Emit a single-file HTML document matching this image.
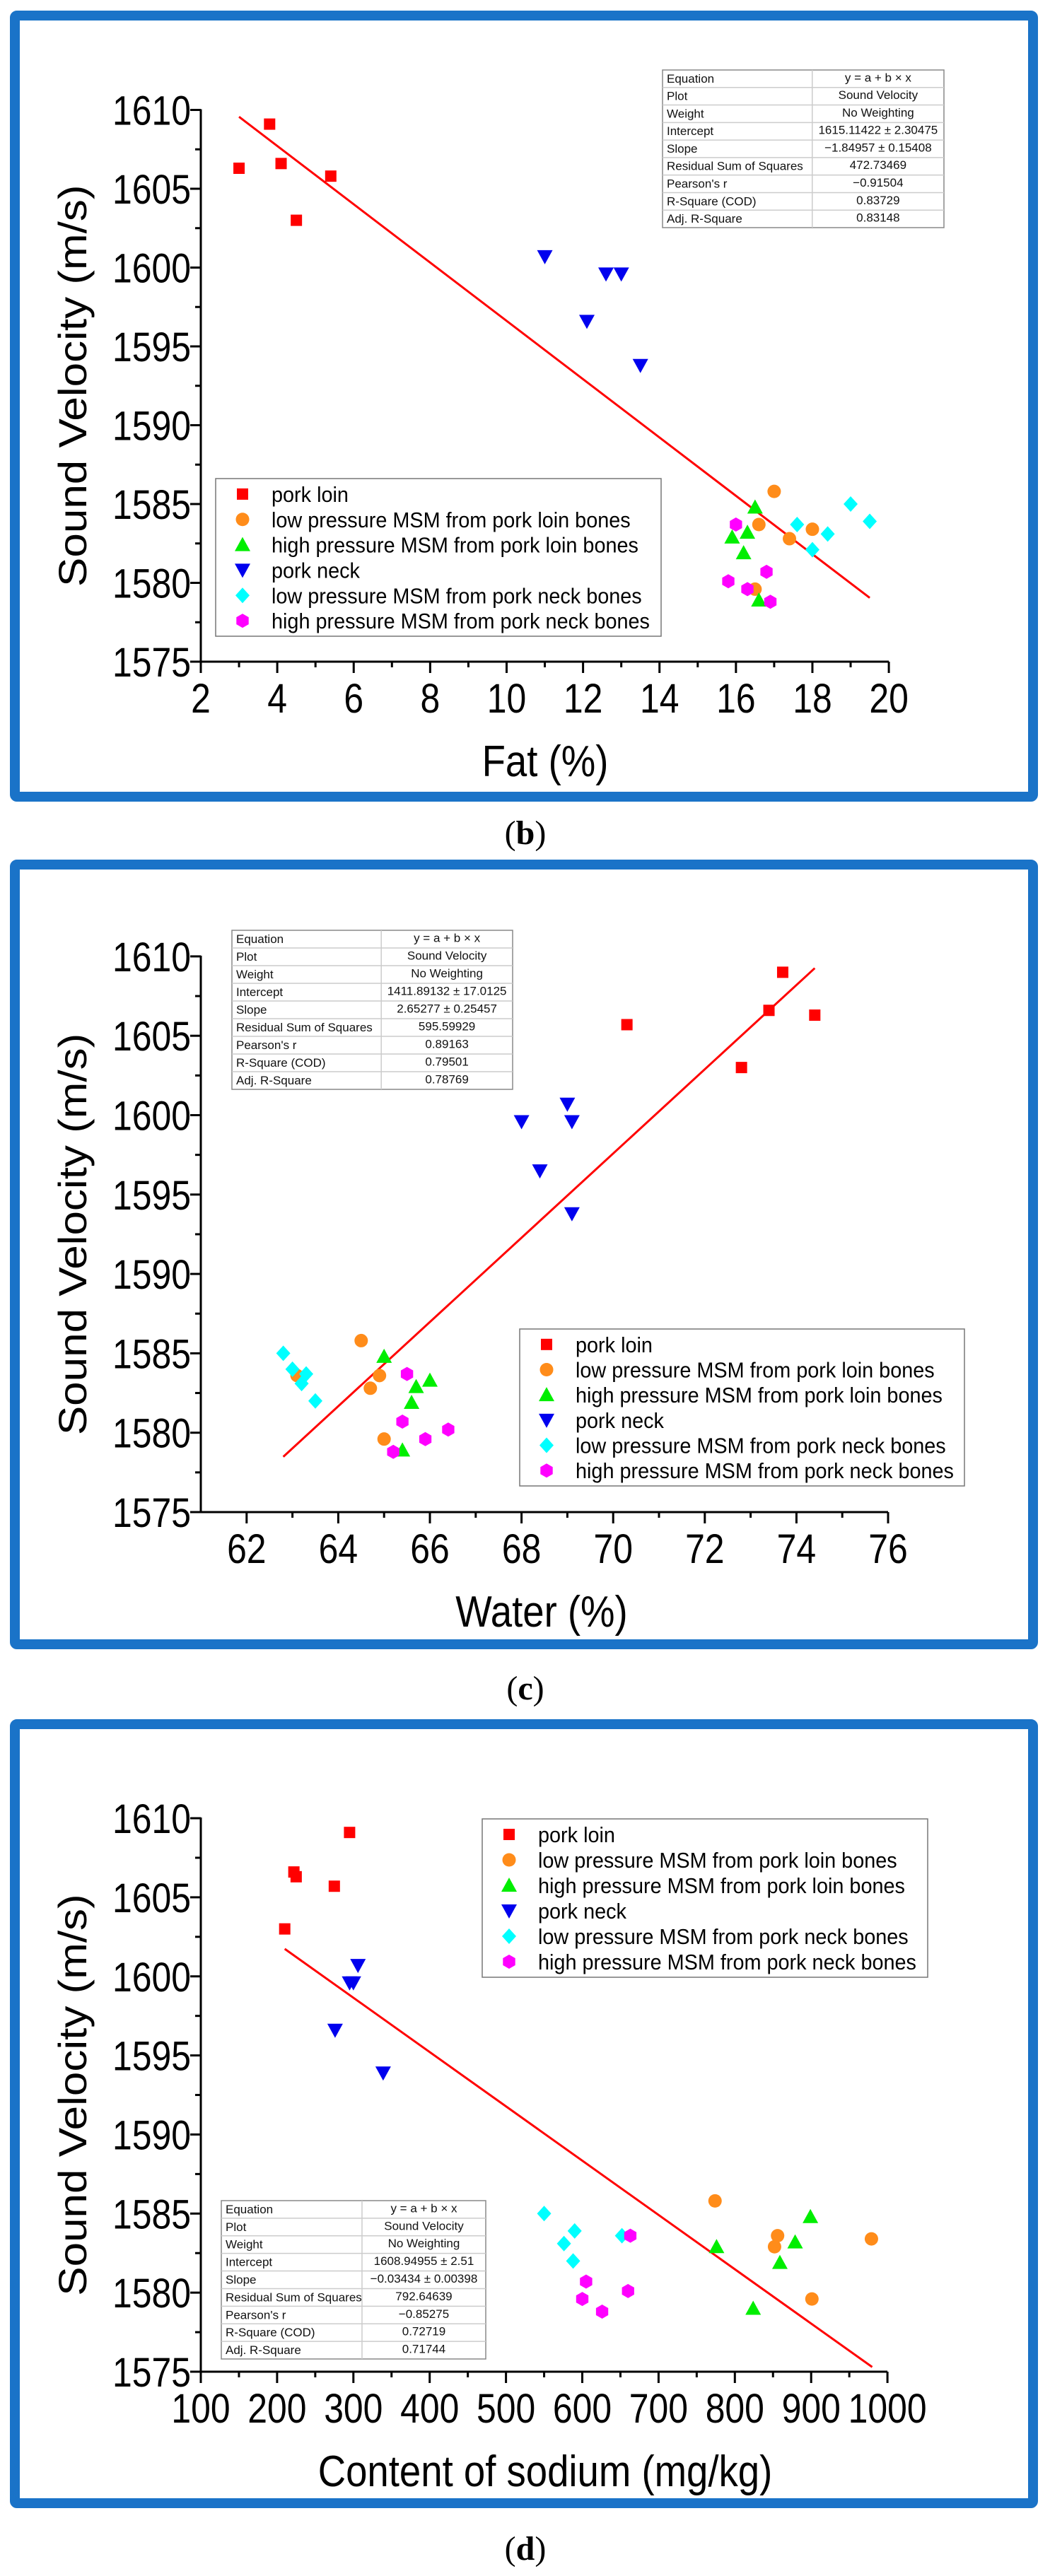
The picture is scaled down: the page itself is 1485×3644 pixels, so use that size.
<!DOCTYPE html>
<html><head><meta charset="utf-8">
<style>
html,body{margin:0;padding:0;background:#fff;}
svg{display:block;font-family:"Liberation Sans",Arial,sans-serif;}
</style></head>
<body>
<svg id="fig" width="1485" height="3644" viewBox="0 0 1485 3644" xmlns="http://www.w3.org/2000/svg">
<g id="root"></g>
</svg>
<script>
// ===== Shared data =====
const seriesNames = ["pork loin","low pressure MSM from pork loin bones","high pressure MSM from pork loin bones","pork neck","low pressure MSM from pork neck bones","high pressure MSM from pork neck bones"];
const seriesColors = ["#ff0000","#ff8c1a","#00ee00","#0000ee","#00ffff","#ff00ff"];
const seriesShapes = ["square","circle","triUp","triDown","diamond","hexagon"];
const yTicks = [1575,1580,1585,1590,1595,1600,1605,1610];

// Panel b: Fat (%)
const fatX = [
 [3.0,3.8,4.1,4.5,5.4],
 [17.0,16.6,18.0,17.4,16.5],
 [16.5,16.3,15.9,16.2,16.6],
 [11.0,12.6,13.0,12.1,13.5],
 [19.0,19.5,17.6,18.4,18.0],
 [16.0,16.8,15.8,16.3,16.9]];
const fatY = [
 [1606.3,1609.1,1606.6,1603.0,1605.8],
 [1585.8,1583.7,1583.4,1582.8,1579.6],
 [1584.8,1583.2,1582.9,1581.9,1578.9],
 [1600.7,1599.6,1599.6,1596.6,1593.8],
 [1585.0,1583.9,1583.7,1583.1,1582.1],
 [1583.7,1580.7,1580.1,1579.6,1578.8]];
const fatTicks = [2,4,6,8,10,12,14,16,18,20];
const fatFit = [1615.11422,-1.84957,3.0,19.5];
const fatStats = ["y = a + b × x","Sound Velocity","No Weighting","1615.11422 ± 2.30475","−1.84957 ± 0.15408","472.73469","−0.91504","0.83729","0.83148"];

// Panel c: Water (%)
const waterX = [
 [73.7,73.4,74.4,70.3,72.8],
 [64.5,64.9,64.7,65.0,63.1],
 [65.0,66.0,65.7,65.6,65.4],
 [69.0,68.0,69.1,68.4,69.1],
 [62.8,63.0,63.3,63.2,63.5],
 [65.5,65.4,66.4,65.9,65.2]];
const waterY = [
 [1609.0,1606.6,1606.3,1605.7,1603.0],
 [1585.8,1583.6,1582.8,1579.6,1583.6],
 [1584.8,1583.3,1582.9,1581.9,1578.9],
 [1600.7,1599.6,1599.6,1596.5,1593.8],
 [1585.0,1584.0,1583.7,1583.1,1582.0],
 [1583.7,1580.7,1580.2,1579.6,1578.8]];
const waterTicks = [62,64,66,68,70,72,74,76];
const waterFit = [1411.89132,2.65277,62.8,74.4];
const waterStats = ["y = a + b × x","Sound Velocity","No Weighting","1411.89132 ± 17.0125","2.65277 ± 0.25457","595.59929","0.89163","0.79501","0.78769"];

// Panel d: Content of sodium (mg/kg)
const sodiumX = [
 [295,222,225,275,210],
 [774,856,979,852,901],
 [899,879,776,859,824],
 [306,295,300,276,339],
 [550,590,652,576,588],
 [663,605,660,600,626]];
const sodiumY = [
 [1609.1,1606.6,1606.3,1605.7,1603.0],
 [1585.8,1583.6,1583.4,1582.9,1579.6],
 [1584.8,1583.2,1582.9,1581.9,1579.0],
 [1600.7,1599.6,1599.6,1596.6,1593.9],
 [1585.0,1583.9,1583.6,1583.1,1582.0],
 [1583.6,1580.7,1580.1,1579.6,1578.8]];
const sodiumTicks = [100,200,300,400,500,600,700,800,900,1000];
const sodiumFit = [1608.94955,-0.03434,210,980];
const sodiumStats = ["y = a + b × x","Sound Velocity","No Weighting","1608.94955 ± 2.51","−0.03434 ± 0.00398","792.64639","−0.85275","0.72719","0.71744"];

const statLabels = ["Equation","Plot","Weight","Intercept","Slope","Residual Sum of Squares","Pearson's r","R-Square (COD)","Adj. R-Square"];

// ===== drawing =====
const NS="http://www.w3.org/2000/svg";
const root=document.getElementById('root');
function mk(tag,attrs,parent){const e=document.createElementNS(NS,tag);for(const k in attrs)e.setAttribute(k,attrs[k]);(parent||root).appendChild(e);return e;}

function symbol(g,shape,cx,cy,color){
  let e;
  if(shape==="square"){e=mk('rect',{x:cx-8,y:cy-8,width:16,height:16,fill:color},g);}
  else if(shape==="circle"){e=mk('circle',{cx:cx,cy:cy,r:9.5,fill:color},g);}
  else if(shape==="triUp"){e=mk('polygon',{points:`${cx},${cy-11} ${cx+11},${cy+9} ${cx-11},${cy+9}`,fill:color},g);}
  else if(shape==="triDown"){e=mk('polygon',{points:`${cx-11},${cy-9} ${cx+11},${cy-9} ${cx},${cy+11}`,fill:color},g);}
  else if(shape==="diamond"){e=mk('polygon',{points:`${cx},${cy-11} ${cx+10},${cy} ${cx},${cy+11} ${cx-10},${cy}`,fill:color},g);}
  else {let p=[];for(let i=0;i<6;i++){const a=Math.PI/6+i*Math.PI/3;p.push((cx+10*Math.cos(a)).toFixed(1)+','+(cy+10*Math.sin(a)).toFixed(1));}
    e=mk('polygon',{points:p.join(' '),fill:color},g);}
  return e;
}

function panel(cfg){
  const g=mk('g',{});
  
  
  const fr=mk('rect',{x:cfg.frame[0]+7,y:cfg.frame[1]+7,width:cfg.frame[2]-cfg.frame[0]-14,height:cfg.frame[3]-cfg.frame[1]-14,fill:'none',stroke:'#1a73c8','stroke-width':14,rx:3},g);
  
  
  const xs=v=>cfg.x0px+(v-cfg.x0)*cfg.xk;
  const ys=v=>cfg.y0px-(v-1575)*cfg.yk;
  const axX=284, axY=cfg.y0px, xEnd=xs(cfg.xTicks[cfg.xTicks.length-1]);
  const ax=mk('g',{stroke:'#000','stroke-width':3,fill:'none'},g);
  
  
  mk('line',{x1:axX,y1:ys(1610)-1,x2:axX,y2:axY+1.5},ax);
  mk('line',{x1:axX-1.5,y1:axY,x2:xEnd,y2:axY},ax);
  yTicks.forEach((t,i)=>{
    const y=ys(t);
    mk('line',{x1:axX-15,y1:y,x2:axX,y2:y},ax);
    if(i<yTicks.length-1) mk('line',{x1:axX-8,y1:ys(t+2.5),x2:axX,y2:ys(t+2.5)},ax);
    const tx=mk('text',{x:0,y:0,'text-anchor':'end','font-size':58,fill:'#000',transform:`translate(270,${y+21}) scale(0.86,1)`},g);
    tx.textContent=t;
    
    
  });
  cfg.xTicks.forEach((t,i)=>{
    const x=xs(t);
    mk('line',{x1:x,y1:axY,x2:x,y2:axY+16},ax);
    if(i<cfg.xTicks.length-1) mk('line',{x1:(x+xs(cfg.xTicks[i+1]))/2,y1:axY,x2:(x+xs(cfg.xTicks[i+1]))/2,y2:axY+8},ax);
    const tx=mk('text',{x:0,y:0,'text-anchor':'middle','font-size':cfg.xFont,fill:'#000',transform:`translate(${x},${axY+72}) scale(0.86,1)`},g);
    tx.textContent=t;
    
    
  });
  const yt=mk('text',{x:0,y:0,'text-anchor':'middle','font-size':62,fill:'#000',transform:`translate(122,${(ys(1610)+axY)/2}) rotate(-90) scale(1,0.9)`},g);
  yt.textContent='Sound Velocity (m/s)';
  
  
  const xt=mk('text',{x:0,y:0,'text-anchor':'middle','font-size':62,fill:'#000',transform:`translate(${cfg.xTitleX},${axY+162}) scale(0.88,1)`},g);
  xt.textContent=cfg.xTitle;
  
  
  const f=cfg.fit;
  const fl=mk('line',{x1:xs(f[2]),y1:ys(f[0]+f[1]*f[2]),x2:xs(f[3]),y2:ys(f[0]+f[1]*f[3]),stroke:'#ff0000','stroke-width':3},g);
  
  
  for(let s=0;s<seriesNames.length;s++){
    const sg=mk('g',{},g);
    
    
    cfg.X[s].forEach((xv,i)=>{
      const p=symbol(sg,seriesShapes[s],xs(xv),ys(cfg.Y[s][i]),seriesColors[s]);
      
      
    });
  }
  const L=cfg.legend;
  const lg=mk('g',{},g);
  
  
  mk('rect',{x:L[0],y:L[1],width:L[2]-L[0],height:L[3]-L[1],fill:'#fff',stroke:'#777','stroke-width':1.5},lg);
  const step=(L[3]-L[1]-8)/6;
  seriesNames.forEach((n,i)=>{
    const cy=L[1]+4+step*(i+0.5);
    const e=mk('g',{},lg);
    
    
    symbol(e,seriesShapes[i],L[0]+38,cy,seriesColors[i]);
    const t=mk('text',{x:0,y:0,'font-size':31,fill:'#000',transform:`translate(${L[0]+79},${cy+11}) scale(0.93,1)`},e);
    t.textContent=n;
  });
  const T=cfg.table;
  const tg=mk('g',{},g);
  
  
  mk('rect',{x:T[0],y:T[1],width:T[2]-T[0],height:T[3]-T[1],fill:'#fff',stroke:'#888','stroke-width':1.5},tg);
  const rh=(T[3]-T[1])/9;
  const div=T[0]+(T[2]-T[0])*0.532;
  mk('line',{x1:div,y1:T[1],x2:div,y2:T[3],stroke:'#ccc','stroke-width':1.5},tg);
  for(let r=0;r<9;r++){
    if(r>0) mk('line',{x1:T[0],y1:T[1]+r*rh,x2:T[2],y2:T[1]+r*rh,stroke:'#ccc','stroke-width':1.5},tg);
    const a=mk('text',{x:T[0]+6,y:T[1]+r*rh+rh*0.72,'font-size':17,fill:'#111'},tg);
    a.textContent=statLabels[r];
    const b=mk('text',{x:(div+T[2])/2,y:T[1]+r*rh+rh*0.66,'font-size':17,'text-anchor':'middle',fill:'#111'},tg);
    b.textContent=cfg.stats[r];
  }
  const cp=mk('text',{x:743,y:cfg.capY,'text-anchor':'middle','font-size':48,'font-family':'"Liberation Serif",serif',fill:'#000'},root);
  cp.innerHTML=cfg.caption;
  
  
}

panel({name:'panel-b-fat',frame:[14,15,1468,1134],x0:2,x0px:284,xk:54.06,y0px:936,yk:22.3,
  xTicks:fatTicks,xFont:58,X:fatX,Y:fatY,fit:fatFit,xTitle:'Fat (%)',xTitleX:771,
  legend:[305,677,935,900],table:[937,99,1335,322],stats:fatStats,capY:1194,caption:'(<tspan font-weight="bold">b</tspan>)'});
panel({name:'panel-c-water',frame:[14,1216,1468,2333],x0:61,x0px:284,xk:64.8,y0px:2139,yk:22.46,
  xTicks:waterTicks,xFont:58,X:waterX,Y:waterY,fit:waterFit,xTitle:'Water (%)',xTitleX:766,
  legend:[735,1880,1364,2102],table:[328,1316,725,1541],stats:waterStats,capY:2404,caption:'(<tspan font-weight="bold">c</tspan>)'});
panel({name:'panel-d-sodium',frame:[14,2432,1468,3548],x0:100,x0px:284,xk:1.079,y0px:3355,yk:22.37,
  xTicks:sodiumTicks,xFont:58,X:sodiumX,Y:sodiumY,fit:sodiumFit,xTitle:'Content of sodium (mg/kg)',xTitleX:771,
  legend:[682,2573,1312,2797],table:[313,3113,687,3337],stats:sodiumStats,capY:3621,caption:'(<tspan font-weight="bold">d</tspan>)'});
</script>
</body></html>
